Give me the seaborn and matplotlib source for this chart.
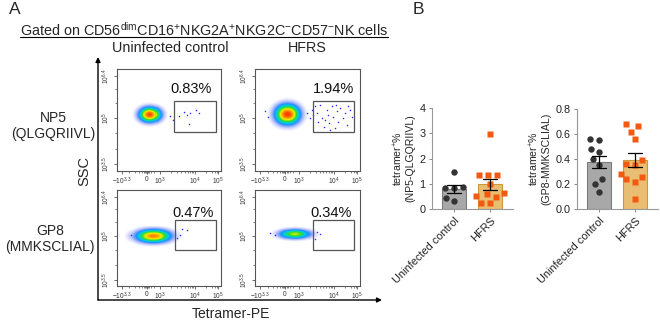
import numpy as np
import pandas as pd
import matplotlib
matplotlib.use("Agg")
import matplotlib.pyplot as plt
import seaborn as sns
from matplotlib.colors import LinearSegmentedColormap
from matplotlib.lines import Line2D
from matplotlib.patches import Rectangle, FancyArrowPatch

# ---------------- data ----------------
groups = ["Uninfected control", "HFRS"]
np5_control = [1.45, 0.88, 0.85, 0.85, 0.33, 0.45]
np5_hfrs = [2.96, 1.33, 1.33, 1.35, 1.00, 0.51, 0.64, 0.59, 0.49, 0.23, 0.25]
gp8_control = [0.55, 0.56, 0.48, 0.46, 0.40, 0.35, 0.24, 0.20, 0.14]
gp8_hfrs = [0.68, 0.66, 0.62, 0.56, 0.39, 0.36, 0.35, 0.28, 0.26, 0.24, 0.22, 0.08]
np5_ticks = [0, 1, 2, 3, 4]
gp8_ticks = [0.0, 0.2, 0.4, 0.6, 0.8]
np5_ylabel = "tetramer$^{+}$%\n(NP5-QLGQRIIVL)"
gp8_ylabel = "tetramer$^{+}$%\n(GP8-MMKSCLIAL)"

# flow panels (display units 0..100 on both axes), order: NP5-ctrl, NP5-HFRS, GP8-ctrl, GP8-HFRS
row_labels = ["NP5\n(QLGQRIIVL)", "GP8\n(MMKSCLIAL)"]
col_labels = ["Uninfected control", "HFRS"]
gate_pct = ["0.83%", "1.94%", "0.47%", "0.34%"]
gate_x0 = [55.0, 55.0, 56.0, 55.5]
gate_x1 = [95.0, 94.6, 95.5, 94.6]
gate_y0 = [38.0, 38.0, 38.0, 38.0]
gate_y1 = [68.7, 69.0, 68.7, 68.7]
pct_x = [71.0, 74.6, 73.0, 72.0]
pct_y = [80.0, 80.0, 75.7, 75.7]
blob_cx = [31.6, 31.0, 35.0, 38.0]
blob_cy = [55.4, 55.7, 52.0, 54.0]
blob_sx = [6.5, 7.4, 10.5, 9.3]
blob_sy = [4.6, 6.2, 4.1, 3.0]
blob_peak = [0.95, 0.97, 0.85, 0.62]
events_x = [
    [60.0, 64.5, 70.3, 76.1, 79.0, 69.0, 67.1, 51.0, 53.5],
    [57.1, 58.7, 60.3, 61.9, 63.5, 65.7, 68.3, 69.8, 70.8, 73.0, 74.6, 76.2, 77.8, 79.4, 81.0,
     84.1, 85.7, 87.3, 88.9, 90.5, 71.4, 66.7, 55.6, 54.0, 52.4, 49.8, 92.1, 77.1, 9.5, 12.7],
    [62.3, 67.1, 60.6, 58.1, 13.9],
    [58.7, 61.9, 57.1, 14.3, 19.0],
]
events_y = [
    [53.7, 57.7, 57.0, 59.6, 57.0, 45.6, 54.7, 54.4, 49.8],
    [63.3, 56.7, 48.5, 64.9, 51.8, 43.6, 60.0, 55.1, 46.9, 63.3, 53.4, 42.0, 58.4, 48.5, 61.6,
     51.8, 56.7, 45.2, 63.3, 60.0, 40.3, 50.2, 55.1, 60.0, 51.8, 56.7, 53.4, 64.9, 58.4, 52.8],
    [59.0, 58.3, 53.1, 49.7, 53.0],
    [56.6, 54.2, 48.6, 55.6, 53.1],
]
flow_xticks = [5.0, 28.5, 41.5, 75.0, 97.4]
flow_xticklabels = [r"$-10^{3.3}$", "0", r"$10^{3}$", r"$10^{4}$", r"$10^{5}$"]
flow_xminor = [12, 17, 21, 24, 26, 27, 28, 29, 30, 31, 33, 36, 52, 58, 62, 65, 68, 70, 72, 73.5, 86, 91, 94, 96]
flow_yticks = [6.5, 52.0, 93.0]
flow_yticklabels = [r"$10^{3.5}$", r"$10^{5}$", r"$10^{6.4}$"]
flow_yminor = [22, 37, 67, 80]

# ---------------- style ----------------
sns.set_theme(style="ticks")
plt.rcParams["font.family"] = ["Liberation Sans", "DejaVu Sans"]
plt.rcParams["mathtext.default"] = "regular"

W, H = 660, 323
fig = plt.figure(figsize=(6.6, 3.23), dpi=100)
fig.patch.set_facecolor("white")


def fx(px):
    return px / W


def fy(py):
    return 1 - py / H


def axes_px(x0, y0, x1, y1):
    return fig.add_axes([fx(x0), fy(y1), (x1 - x0) / W, (y1 - y0) / H])


flow_cmap = LinearSegmentedColormap.from_list(
    "flow", ["#3a3aff", "#2a70ff", "#00c8f0", "#30dd30", "#f2ee00", "#ff8a00", "#ff2a00"])

flow_boxes = [(117, 69, 221, 171), (255, 69, 360, 171), (117, 190, 221, 286), (255, 190, 360, 286)]

gx = np.arange(100) + 0.5
GX, GY = np.meshgrid(gx, gx)

for i, box in enumerate(flow_boxes):
    ax = axes_px(*box)
    ax.set_facecolor("white")
    d = blob_peak[i] * np.exp(-0.5 * (((GX - blob_cx[i]) / blob_sx[i]) ** 2 + ((GY - blob_cy[i]) / blob_sy[i]) ** 2))
    rgba = flow_cmap(np.clip(d, 0, 1))
    rgba[..., 3] = np.clip((d - 0.02) / 0.22, 0, 1)
    ax.imshow(rgba, extent=(0, 100, 0, 100), origin="lower", interpolation="nearest", aspect="auto", zorder=1)
    ax.scatter(events_x[i], events_y[i], s=1.2, color="#2a2aff", linewidths=0, zorder=2)
    ax.add_patch(Rectangle((gate_x0[i], gate_y0[i]), gate_x1[i] - gate_x0[i], gate_y1[i] - gate_y0[i],
                           fill=False, edgecolor="#555555", linewidth=0.9, zorder=3))
    ax.text(pct_x[i], pct_y[i], gate_pct[i], ha="center", va="center", fontsize=10.5, color="#111111")
    ax.set_xlim(0, 100)
    ax.set_ylim(0, 100)
    ax.set_xticks(flow_xticks)
    ax.set_xticklabels(flow_xticklabels)
    ax.set_xticks(flow_xminor, minor=True)
    ax.set_yticks(flow_yticks)
    ax.set_yticklabels(flow_yticklabels, rotation=90, va="center")
    ax.set_yticks(flow_yminor, minor=True)
    ax.tick_params(axis="both", which="major", labelsize=4.8, length=2, width=0.6, pad=1.5,
                   color="#555555", labelcolor="#333333")
    ax.tick_params(axis="both", which="minor", length=1.3, width=0.5, color="#555555")
    for s in ax.spines.values():
        s.set_color("#555555")
        s.set_linewidth(0.8)

# big axis arrows
fig.add_artist(FancyArrowPatch((fx(98), fy(300)), (fx(98), fy(57)), transform=fig.transFigure,
                               arrowstyle="-|>", mutation_scale=7, lw=1.0, color="black",
                               shrinkA=0, shrinkB=0))
fig.add_artist(FancyArrowPatch((fx(98), fy(300)), (fx(382), fy(300)), transform=fig.transFigure,
                               arrowstyle="-|>", mutation_scale=7, lw=1.0, color="black",
                               shrinkA=0, shrinkB=0))

# texts panel A
fig.text(fx(9), fy(10), "A", fontsize=12.5, ha="left", va="center")
fig.text(fx(413), fy(10), "B", fontsize=12.5, ha="left", va="center")
title = fig.text(fx(204), fy(30),
                 "Gated on CD56$^{dim}$CD16$^{+}$NKG2A$^{+}$NKG2C$^{-}$CD57$^{-}$NK cells",
                 fontsize=10.4, ha="center", va="center")
fig.text(fx(170), fy(47.5), col_labels[0], fontsize=10.4, ha="center", va="center")
fig.text(fx(307), fy(47.5), col_labels[1], fontsize=10.4, ha="center", va="center")
fig.text(fx(53), fy(126), row_labels[0], fontsize=10, ha="center", va="center", linespacing=1.15)
fig.text(fx(50), fy(239), row_labels[1], fontsize=10, ha="center", va="center", linespacing=1.15)
fig.text(fx(84), fy(171), "SSC", fontsize=10.5, ha="center", va="center", rotation=90)
fig.text(fx(231), fy(314), "Tetramer-PE", fontsize=10, ha="center", va="center")

# ---------------- panel B ----------------
bar_colors = ["#a8a8a8", "#fdc25e"]
bar_edges = ["#7c7c7c", "#c99a3c"]


def bar_panel(ax, ctrl, hfrs, ticks, ylabel, fmt):
    df = pd.DataFrame({"group": [groups[0]] * len(ctrl) + [groups[1]] * len(hfrs),
                       "value": list(ctrl) + list(hfrs)})
    sns.barplot(data=df, x="group", y="value", hue="group", order=groups, hue_order=groups,
                palette=bar_colors, errorbar="se", capsize=0.4, width=0.667,
                err_kws={"color": "black", "linewidth": 0.9}, linewidth=0.8, legend=False, ax=ax)
    for p, ec in zip(ax.patches, bar_edges):
        p.set_edgecolor(ec)
    sns.swarmplot(data=df[df.group == groups[0]], x="group", y="value", order=groups,
                  color="#333333", marker="o", size=4.6, edgecolor=(0, 0, 0, 0), linewidth=1.6, ax=ax)
    sns.swarmplot(data=df[df.group == groups[1]], x="group", y="value", order=groups,
                  color="#f25a12", marker="s", size=4.4, edgecolor=(0, 0, 0, 0), linewidth=1.8, ax=ax)
    for ln in ax.lines:
        ln.set_zorder(5)
    ax.set_xlim(-0.62, 1.64)
    ax.set_ylim(ticks[0], ticks[-1])
    ax.set_yticks(ticks)
    ax.set_yticklabels([fmt.format(t) for t in ticks])
    ax.set_xlabel("")
    ax.set_ylabel(ylabel, fontsize=7.6, linespacing=1.1, labelpad=3)
    ax.set_xticks([0, 1])
    ax.set_xticklabels(groups, rotation=45, ha="right", rotation_mode="anchor")
    ax.tick_params(axis="both", labelsize=7.8, length=2.5, width=0.7, pad=2, color="#888888",
                   labelcolor="#222222")
    sns.despine(ax=ax)
    for s in ("left", "bottom"):
        ax.spines[s].set_color("#999999")
        ax.spines[s].set_linewidth(0.8)


axb1 = axes_px(432, 108, 513, 209)
bar_panel(axb1, np5_control, np5_hfrs, np5_ticks, np5_ylabel, "{:d}")
axb2 = axes_px(577, 109, 658, 209)
bar_panel(axb2, gp8_control, gp8_hfrs, gp8_ticks, gp8_ylabel, "{:.1f}")

# underline for title
fig.canvas.draw()
bb = title.get_window_extent(fig.canvas.get_renderer())
fig.add_artist(Line2D([bb.x0 / fig.bbox.width, bb.x1 / fig.bbox.width],
                      [fy(37), fy(37)], transform=fig.transFigure, color="black", lw=0.8))

fig.savefig("out.png", dpi=100, facecolor="white")
